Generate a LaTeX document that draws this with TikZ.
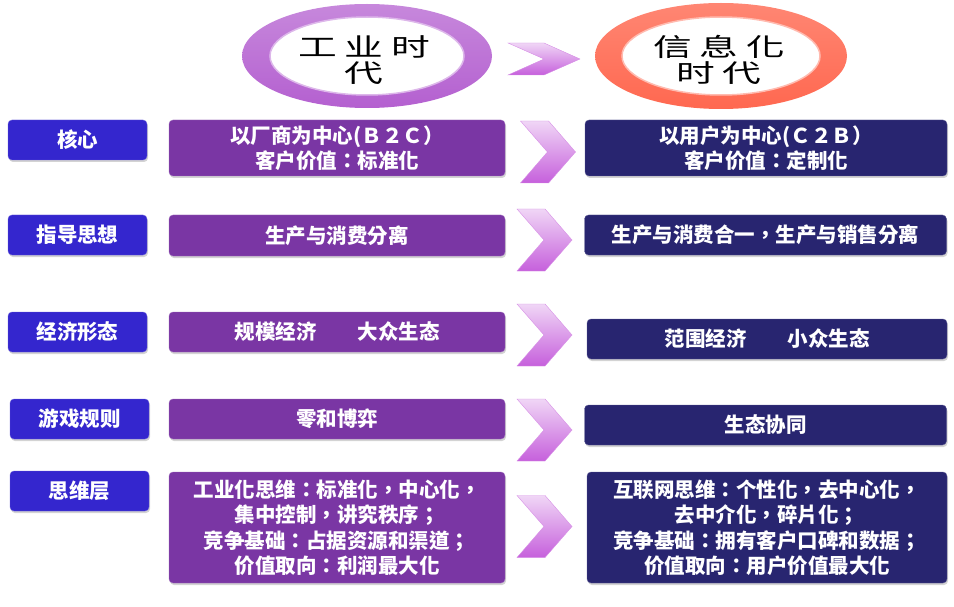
\documentclass[tikz,border=0pt]{standalone}
\usepackage{fontspec}
\setmainfont{Noto Sans CJK TC}
\usepackage{graphicx}
\usepackage{tikz}
\usetikzlibrary{shapes.symbols, shadows, positioning}

\definecolor{keyblue}{RGB}{52,38,206}
\definecolor{oldpurple}{RGB}{122,54,164}
\definecolor{newnavy}{RGB}{40,37,112}
\definecolor{chevtop}{RGB}{240,214,246}
\definecolor{chevbot}{RGB}{198,96,220}
\definecolor{ringpurple}{RGB}{180,96,208}
\definecolor{ringred}{RGB}{255,104,80}

\newcommand\eragap{\hspace{5pt}}
\newcommand\erarow[1]{\scalebox{1.55}[1]{#1}}

\begin{document}
\begin{tikzpicture}[x=1pt, y=-1pt,
    box/.style={rounded corners=4pt, align=center, text=white,
      font=\fontsize{20.5}{25.5}\selectfont\bfseries,
      drop shadow={shadow xshift=1pt, shadow yshift=-2pt, opacity=0.35}},
    keybox/.style={box, fill=keyblue, draw=keyblue!75!white, minimum width=139pt, minimum height=40pt},
    oldbox/.style={box, fill=oldpurple, draw=oldpurple!75!white, minimum width=336pt, minimum height=40pt},
    newbox/.style={box, fill=newnavy, draw=newnavy!75!white, minimum width=362pt, minimum height=40pt},
    chevron/.style={signal, signal to=east, signal from=west, signal pointer angle=98,
      minimum width=55pt, minimum height=62pt, inner sep=0pt,
      top color=chevtop, bottom color=chevbot, draw=chevbot!70!white},
    eratext/.style={align=center, font=\fontsize{25}{26}\selectfont}
  ]
    \useasboundingbox (0,0) rectangle (954,607);

    % era rings
    \coordinate (oldc) at (367,56);
    \coordinate (newc) at (721,56);
    \shade[top color=ringpurple!75!white, bottom color=ringpurple, even odd rule]
      (oldc) ellipse [x radius=125pt, y radius=52pt] (oldc) ellipse [x radius=97pt, y radius=39pt];
    \shade[top color=ringred!80!white, bottom color=ringred, even odd rule]
      (newc) ellipse [x radius=126pt, y radius=53pt] (newc) ellipse [x radius=99pt, y radius=39pt];
    \draw[ringpurple!45!white, line width=1.5pt] (oldc) ellipse [x radius=97pt, y radius=39pt];
    \draw[ringred!45!white, line width=1.5pt] (newc) ellipse [x radius=99pt, y radius=39pt];
    \node[eratext] (oldera) at (364,60) {\erarow{工\eragap 业\eragap 时}\\\erarow{代}};
    \node[eratext] (newera) at (719,60) {\erarow{信\eragap 息\eragap 化}\\\erarow{时\eragap 代}};
    \node[chevron, signal pointer angle=48, minimum width=68pt, minimum height=32pt] (shift) at (544,59) {};

    % row labels
    \node[keybox] (core) at (77.5,140) {核心};
    \node[keybox] (guide) at (77.5,235) {指导思想};
    \node[keybox] (econ) at (77.5,332) {经济形态};
    \node[keybox] (game) at (79.5,419) {游戏规则};
    \node[keybox] (mind) at (79.5,491) {思维层};

    % industrial era
    \node[oldbox, minimum height=56pt] (oldcore) at (337,148) {以厂商为中心(Ｂ２Ｃ）\\客户价值：标准化};
    \node[oldbox, minimum height=41pt] (oldguide) at (337,235.5) {生产与消费分离};
    \node[oldbox] (oldecon) at (337,332) {规模经济\hspace{2em}大众生态};
    \node[oldbox] (oldgame) at (337,419) {零和博弈};
    \node[oldbox, minimum height=111pt] (oldmind) at (337,527.5)
      {工业化思维：标准化，中心化，\\集中控制，讲究秩序；\\竞争基础：占据资源和渠道；\\价值取向：利润最大化};

    % chevrons
    \node[chevron] (arrcore) at (548,152) {};
    \node[chevron] (arrguide) at (544.5,240) {};
    \node[chevron] (arrecon) at (544.5,335) {};
    \node[chevron] (arrgame) at (544.5,430) {};
    \node[chevron] (arrmind) at (544.5,526.5) {};

    % information era
    \node[newbox, minimum height=56pt] (newcore) at (766,148) {以用户为中心(Ｃ２Ｂ）\\客户价值：定制化};
    \node[newbox] (newguide) at (765.5,235) {生产与消费合一，生产与销售分离};
    \node[newbox, minimum width=360pt] (newecon) at (767,339) {范围经济\hspace{2em}小众生态};
    \node[newbox] (newgame) at (765.5,425) {生态协同};
    \node[newbox, minimum width=360pt, minimum height=111pt] (newmind) at (767,527.5)
      {互联网思维：个性化，去中心化，\\去中介化，碎片化；\\竞争基础：拥有客户口碑和数据；\\价值取向：用户价值最大化};
  \end{tikzpicture}
\end{document}
